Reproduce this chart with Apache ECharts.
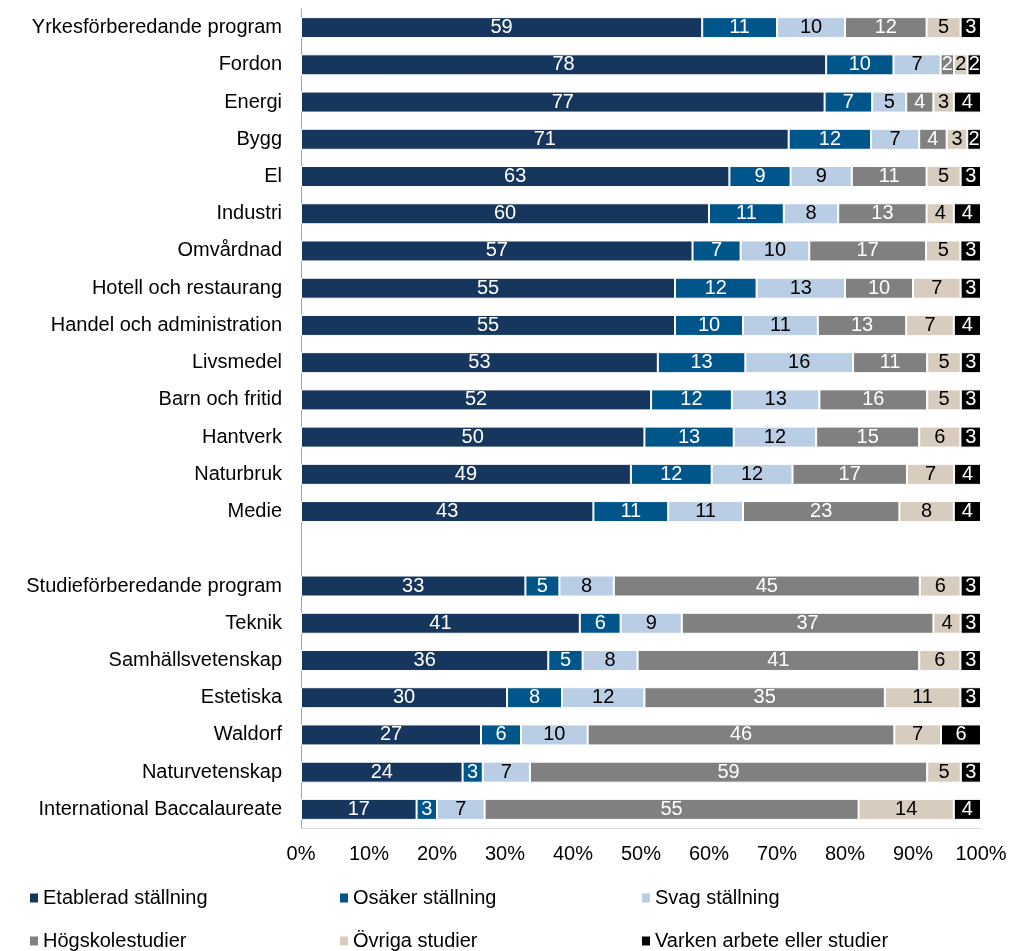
<!DOCTYPE html>
<html>
<head>
<meta charset="utf-8">
<title>Ställning efter program</title>
<script src="https://cdn.jsdelivr.net/npm/echarts@6/dist/echarts.min.js"></script>
<style>
  html, body { margin: 0; padding: 0; background: #fff; }
  #chart { width: 1014px; height: 951px; }
</style>
</head>
<body>
<div id="chart"></div>
<script>
// kategorier (tom rad skiljer yrkes- och studieförberedande)
const programs = [
  'Yrkesförberedande program', 'Fordon', 'Energi', 'Bygg', 'El', 'Industri',
  'Omvårdnad', 'Hotell och restaurang', 'Handel och administration', 'Livsmedel',
  'Barn och fritid', 'Hantverk', 'Naturbruk', 'Medie', '',
  'Studieförberedande program', 'Teknik', 'Samhällsvetenskap', 'Estetiska',
  'Waldorf', 'Naturvetenskap', 'International Baccalaureate'
]

const etablerad = [59, 78, 77, 71, 63, 60, 57, 55, 55, 53, 52, 50, 49, 43, null, 33, 41, 36, 30, 27, 24, 17]
const osaker    = [11, 10, 7, 12, 9, 11, 7, 12, 10, 13, 12, 13, 12, 11, null, 5, 6, 5, 8, 6, 3, 3]
const svag      = [10, 7, 5, 7, 9, 8, 10, 13, 11, 16, 13, 12, 12, 11, null, 8, 9, 8, 12, 10, 7, 7]
const hogskola  = [12, 2, 4, 4, 11, 13, 17, 10, 13, 11, 16, 15, 17, 23, null, 45, 37, 41, 35, 46, 59, 55]
const ovriga    = [5, 2, 3, 3, 5, 4, 5, 7, 7, 5, 5, 6, 7, 8, null, 6, 4, 6, 11, 7, 5, 14]
const varken    = [3, 2, 4, 2, 3, 4, 3, 3, 4, 3, 3, 3, 4, 4, null, 3, 3, 3, 3, 6, 3, 4]

const xTicks = [0, 10, 20, 30, 40, 50, 60, 70, 80, 90, 100]

const groups = [
  { name: 'Etablerad ställning', values: etablerad, color: '#17365d', text: '#fff' },
  { name: 'Osäker ställning', values: osaker, color: '#00568a', text: '#fff' },
  { name: 'Svag ställning', values: svag, color: '#b9cde5', text: '#000' },
  { name: 'Högskolestudier', values: hogskola, color: '#808080', text: '#fff' },
  { name: 'Övriga studier', values: ovriga, color: '#d8ccbf', text: '#000' },
  { name: 'Varken arbete eller studier', values: varken, color: '#000000', text: '#fff' }
]

// radsummor för att visa varje stapel som 100 %
const rowSums = programs.map((p, i) => groups.reduce((s, g) => s + (g.values[i] || 0), 0))

const font = 'Liberation Sans, Arial, sans-serif'

const series = groups.map(g => ({
  name: g.name,
  type: 'bar',
  stack: 'total',
  barWidth: 21,
  itemStyle: { color: g.color, borderColor: '#fff', borderWidth: 1 },
  label: {
    show: true,
    position: 'inside',
    color: g.text,
    fontFamily: font,
    fontSize: 20,
    formatter: p => (p.data && p.data.raw != null ? p.data.raw : '')
  },
  data: g.values.map((v, i) => v == null ? '-' : { value: v / rowSums[i] * 100, raw: v })
}))

// legend i två rader med tre kolumner
const legendCols = [25, 335, 637]
const legendRows = [883, 926]
const legend = groups.map((g, i) => ({
  data: [g.name],
  left: legendCols[i % 3],
  top: legendRows[Math.floor(i / 3)],
  icon: 'rect',
  itemWidth: 8,
  itemHeight: 9,
  itemStyle: { borderWidth: 0 },
  selectedMode: false,
  textStyle: { fontFamily: font, fontSize: 20, color: '#000' }
}))

const chart = echarts.init(document.getElementById('chart'))
chart.setOption({
  animation: false,
  textStyle: { fontFamily: font },
  legend: legend,
  grid: { left: 301, right: 33, top: 9, bottom: 123, containLabel: false },
  xAxis: {
    type: 'value',
    min: xTicks[0],
    max: xTicks[xTicks.length - 1],
    interval: 10,
    axisLine: { show: true, lineStyle: { color: '#d9d9d9', width: 1 } },
    axisTick: { show: false },
    splitLine: { show: false },
    axisLabel: { color: '#000', fontSize: 20, fontFamily: font, margin: 16, formatter: v => v + '%' }
  },
  yAxis: {
    type: 'category',
    inverse: true,
    data: programs,
    axisLine: { show: true, lineStyle: { color: '#a6a6a6', width: 1 } },
    axisTick: { show: false },
    axisLabel: { color: '#000', fontSize: 20, fontFamily: font, margin: 19, interval: 0 }
  },
  series: series
})
</script>
</body>
</html>
